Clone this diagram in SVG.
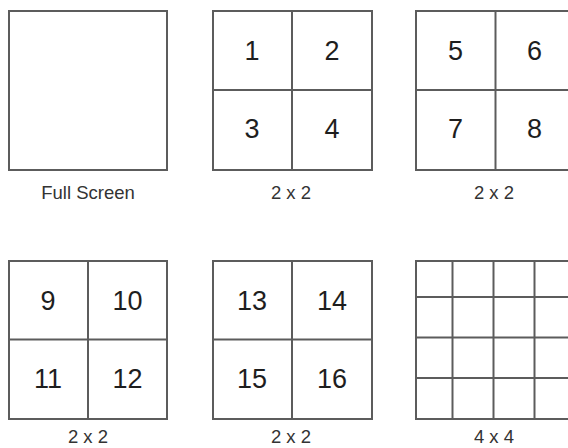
<svg xmlns="http://www.w3.org/2000/svg" width="568" height="448" viewBox="0 0 568 448">
<style>
.box{fill:#fff;stroke:#5c5c5c;stroke-width:2}
.ln{stroke:#5c5c5c;stroke-width:2;fill:none}
.num{font-family:"Liberation Sans",Arial,sans-serif;font-size:27px;fill:#1e1e1e;text-anchor:middle}
.lbl{font-family:"Liberation Sans",Arial,sans-serif;font-size:18.5px;fill:#333;text-anchor:middle}
</style>
<rect width="568" height="448" fill="#fff"/>
<g id="full-screen">
<rect class="box" x="9" y="11" width="158" height="159"/>
<text class="lbl" x="88" y="199">Full Screen</text>
</g>
<g id="quad-1-4">
<rect class="box" x="213" y="11" width="159" height="159"/>
<line class="ln" x1="292" y1="11" x2="292" y2="170"/>
<line class="ln" x1="213" y1="90" x2="372" y2="90"/>
<text class="num" x="252" y="60">1</text>
<text class="num" x="332" y="60">2</text>
<text class="num" x="252" y="138">3</text>
<text class="num" x="332" y="138">4</text>
<text class="lbl" x="291" y="199">2 x 2</text>
</g>
<g id="quad-5-8">
<rect class="box" x="416" y="11" width="159" height="159"/>
<line class="ln" x1="495.5" y1="11" x2="495.5" y2="170"/>
<line class="ln" x1="416" y1="90" x2="575" y2="90"/>
<text class="num" x="455.5" y="60">5</text>
<text class="num" x="534.5" y="60">6</text>
<text class="num" x="455.5" y="138">7</text>
<text class="num" x="534.5" y="138">8</text>
<text class="lbl" x="494" y="199">2 x 2</text>
</g>
<g id="quad-9-12">
<rect class="box" x="9" y="261" width="158" height="158"/>
<line class="ln" x1="88" y1="261" x2="88" y2="419"/>
<line class="ln" x1="9" y1="339.5" x2="167" y2="339.5"/>
<text class="num" x="48" y="309.5">9</text>
<text class="num" x="127.5" y="309.5">10</text>
<text class="num" x="48" y="388">11</text>
<text class="num" x="127.5" y="388">12</text>
<text class="lbl" x="88" y="443">2 x 2</text>
</g>
<g id="quad-13-16">
<rect class="box" x="213" y="261" width="159" height="158"/>
<line class="ln" x1="292" y1="261" x2="292" y2="419"/>
<line class="ln" x1="213" y1="339.5" x2="372" y2="339.5"/>
<text class="num" x="252" y="309.5">13</text>
<text class="num" x="332" y="309.5">14</text>
<text class="num" x="252" y="388">15</text>
<text class="num" x="332" y="388">16</text>
<text class="lbl" x="291" y="443">2 x 2</text>
</g>
<g id="grid-4x4">
<rect class="box" x="416" y="261" width="159" height="158"/>
<line class="ln" x1="452.5" y1="261" x2="452.5" y2="419"/>
<line class="ln" x1="493.5" y1="261" x2="493.5" y2="419"/>
<line class="ln" x1="534.5" y1="261" x2="534.5" y2="419"/>
<line class="ln" x1="416" y1="297" x2="575" y2="297"/>
<line class="ln" x1="416" y1="337.5" x2="575" y2="337.5"/>
<line class="ln" x1="416" y1="378" x2="575" y2="378"/>
<text class="lbl" x="494" y="443">4 x 4</text>
</g>
</svg>
